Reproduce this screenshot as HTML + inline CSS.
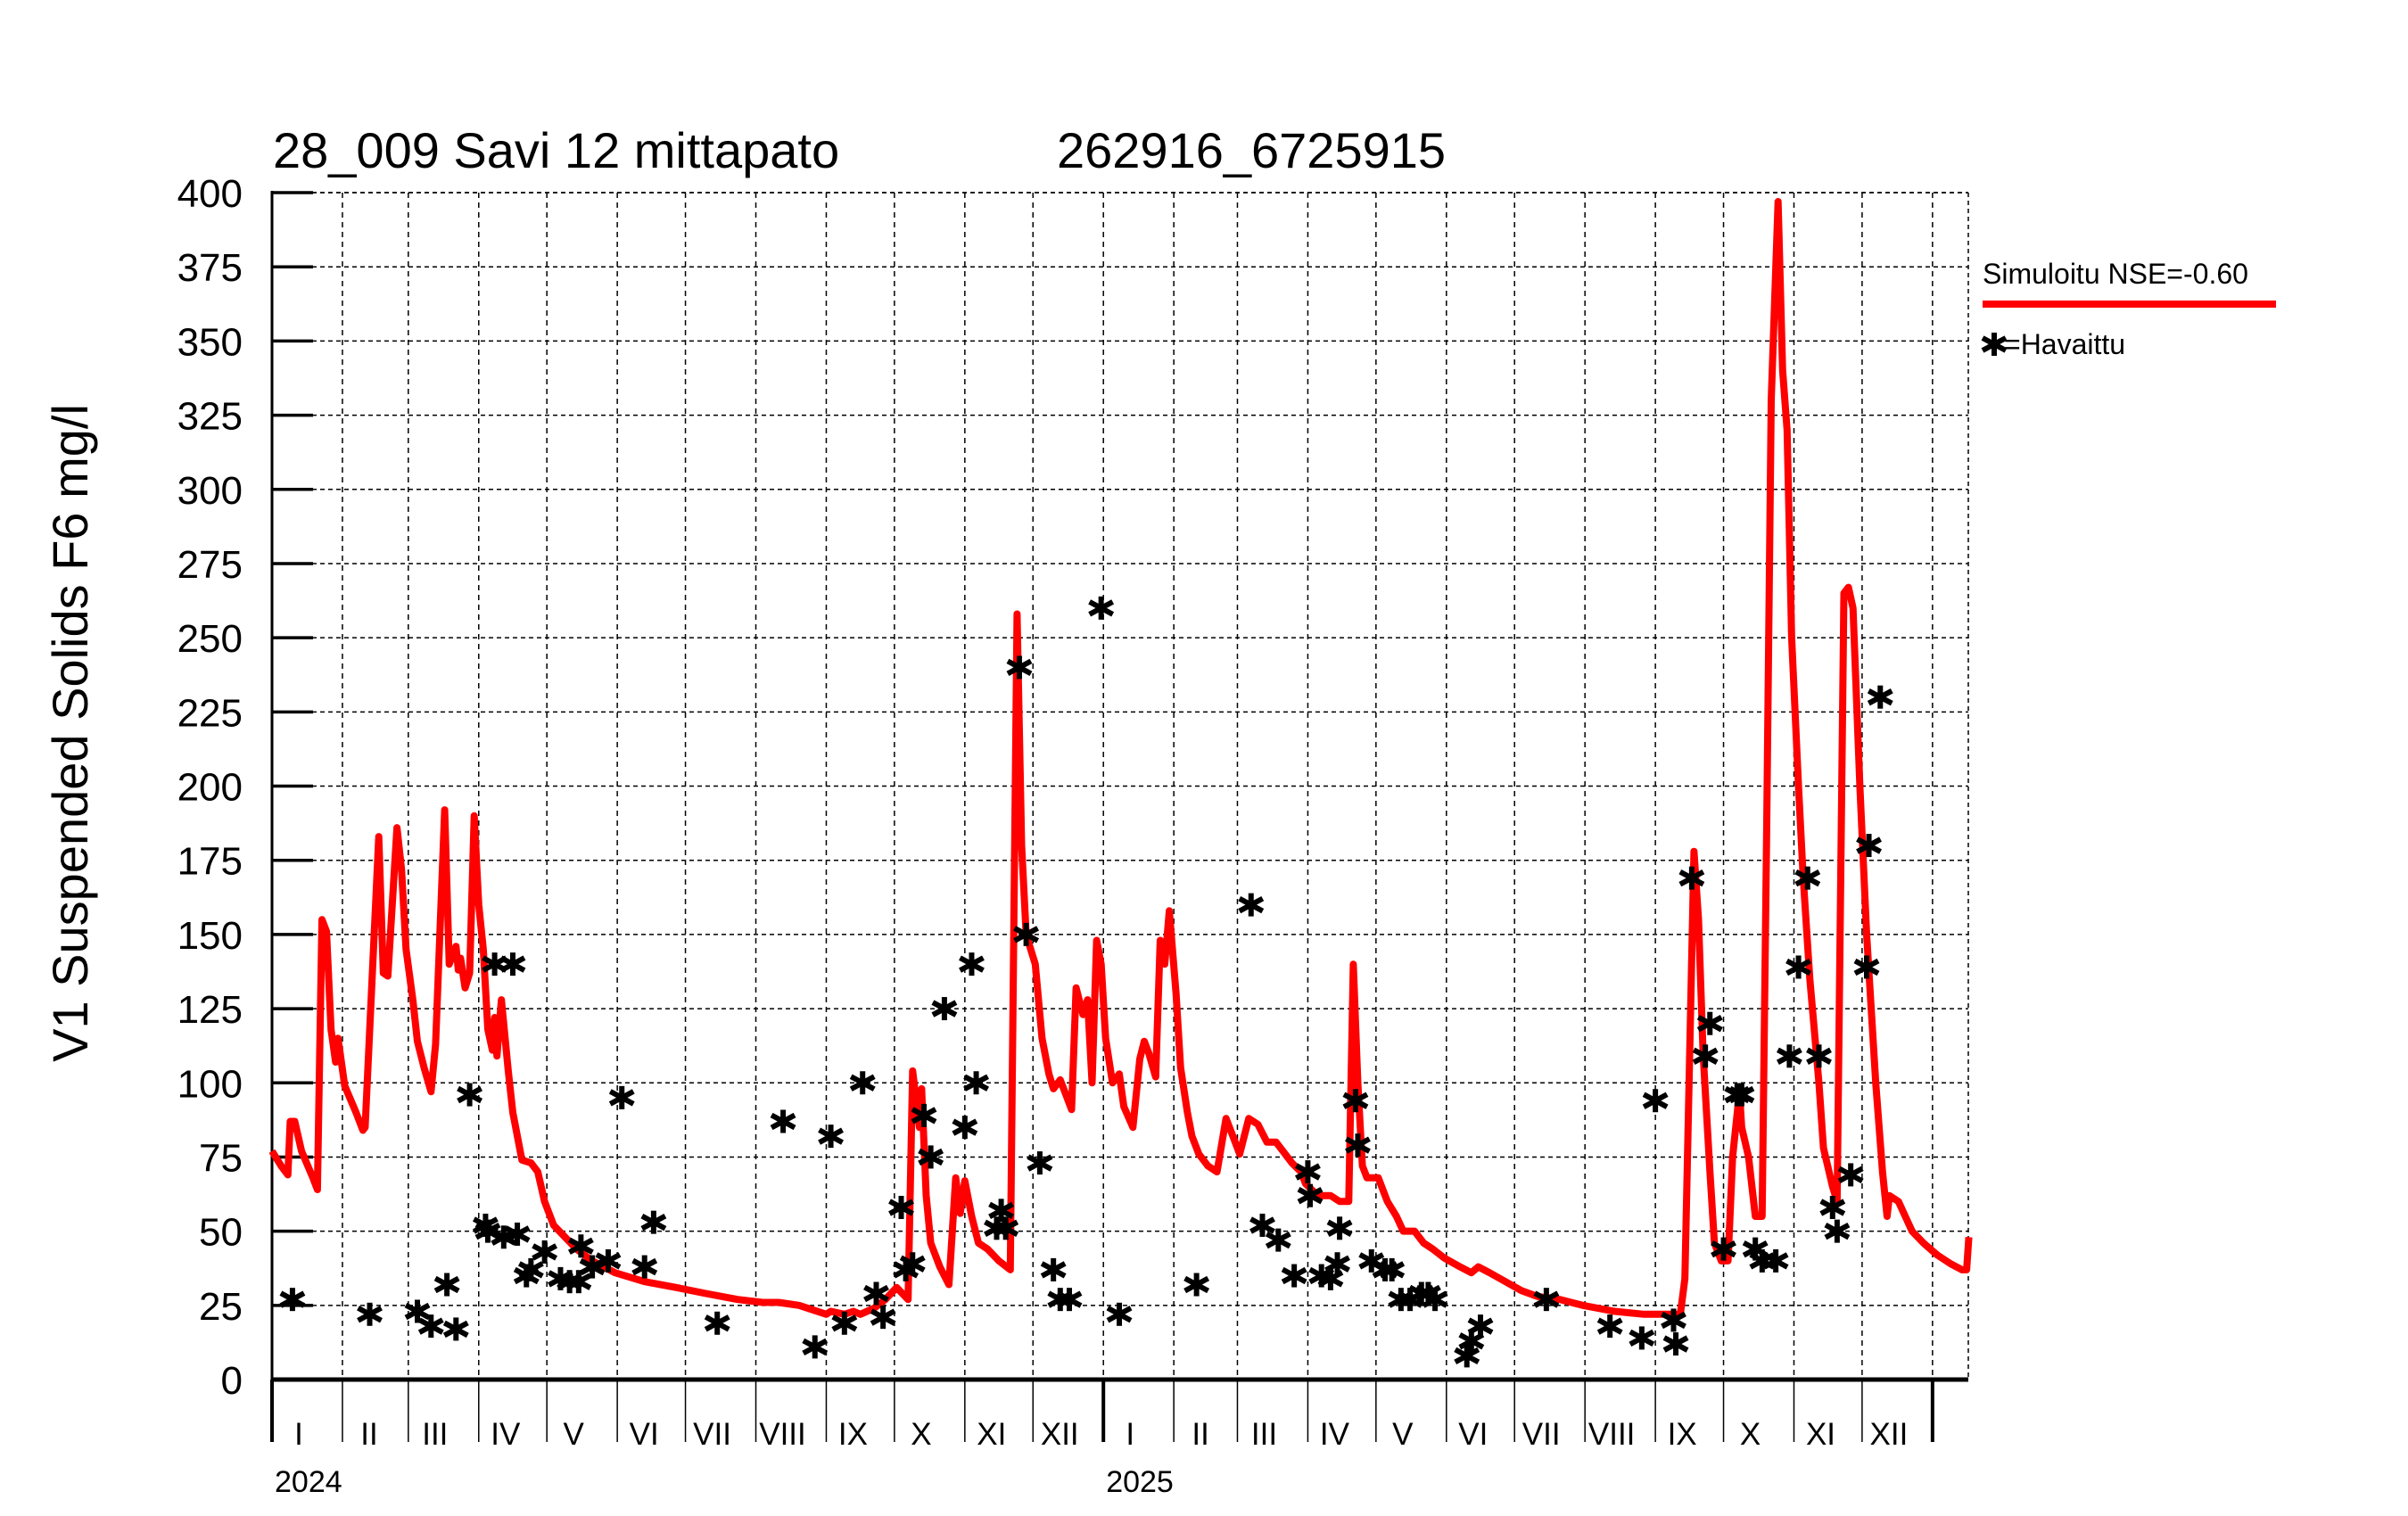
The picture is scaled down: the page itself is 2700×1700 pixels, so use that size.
<!DOCTYPE html>
<html><head><meta charset="utf-8"><style>
html,body{margin:0;padding:0;background:#fff;}
svg{display:block;font-family:"Liberation Sans",sans-serif;}
</style></head><body>
<svg id="chart" width="2700" height="1700" viewBox="0 0 2700 1700" xmlns="http://www.w3.org/2000/svg">
<text x="306" y="188" font-size="56">28_009 Savi 12 mittapato</text>
<text x="1185" y="188" font-size="56">262916_6725915</text>
<text transform="translate(98,822) rotate(-90)" text-anchor="middle" font-size="56">V1 Suspended Solids F6 mg/l</text>
<g id="grid"></g><g id="axes"></g><g id="sim"></g><g id="obs"></g>
<g>
<text x="2223" y="318" font-size="32">Simuloitu NSE=-0.60</text>
<line x1="2223" y1="341" x2="2552" y2="341" stroke="#ff0000" stroke-width="8"/>
<g stroke="#000" stroke-width="6">
<line x1="2236" y1="373" x2="2236" y2="399"/><line x1="2223" y1="379" x2="2249" y2="393"/><line x1="2249" y1="379" x2="2223" y2="393"/></g>
<text x="2247" y="397" font-size="32">=Havaittu</text>
</g>
</svg>
<script>
const simDays=[0,4,7,8,10,13,18,20,22,24,26,28,29,30,32,37,40,41,47,49,51,55,57,59,62,64,67,70,72,76,78,81,82,83,85,87,89,91,93,95,97,98,99,101,104,106,108,110,114,117,120,124,129,134,141,151,164,178,191,205,216,223,232,244,246,252,256,259,265,270,275,280,282,285,286,288,290,294,298,301,303,305,308,311,315,320,325,328,330,332,336,339,342,344,347,349,352,354,357,359,361,363,365,367,370,373,375,379,382,384,386,389,391,393,395,398,400,403,405,408,412,416,420,423,426,430,434,438,442,446,449,453,455,459,462,466,470,474,476,478,480,482,484,487,491,495,498,503,507,511,516,523,528,531,536,543,550,557,567,577,591,604,614,620,622,626,628,630,633,635,638,641,643,646,647,650,653,656,658,660,663,665,667,669,672,674,677,681,683,687,689,692,694,696,699,702,706,709,711,712,716,719,722,727,733,739,744,746,747];
const simValues=[77,72,69,87,87,77,68,64,155,151,118,107,115,110,99,90,84,85,183,137,136,186,172,145,128,114,105,97,113,192,140,146,138,142,132,137,190,160,145,118,111,122,109,128,104,90,82,74,73,70,60,52,48,44,40,36,33,31,29,27,26,26,25,22,23,22,23,22,24,27,31,27,104,85,98,62,46,38,32,68,56,67,55,46,44,40,37,258,180,150,140,115,103,98,101,97,91,132,123,128,100,148,140,115,100,103,92,85,108,114,110,102,148,140,158,130,105,90,82,76,72,70,88,82,76,88,86,80,80,76,73,70,66,63,62,62,60,60,140,100,72,68,68,68,60,55,50,50,46,44,41,38,36,38,36,33,30,28,27,25,23,22,22,22,34,178,155,110,70,46,40,40,75,97,85,75,55,55,185,330,397,340,320,250,200,170,135,100,78,65,60,265,267,260,200,150,100,70,55,62,60,55,50,46,42,39,37,37,48];
const obsDays=[9,43,64,70,77,81,87,94,95,98,106,102,108,112,114,120,127,131,135,136,141,148,154,164,168,196,225,239,246,252,260,266,269,277,279,282,287,290,296,305,308,310,319,321,323,329,332,338,344,347,351,365,373,407,431,436,443,450,456,457,462,466,469,470,477,478,484,490,493,497,501,506,509,512,526,528,532,561,589,603,609,617,618,625,631,633,639,645,647,653,656,662,668,672,676,681,687,689,695,702,703,708];
const obsValues=[27,22,23,18,32,17,96,52,50,140,140,48,49,35,37,43,34,33,33,45,38,40,95,38,53,19,87,11,82,19,100,29,21,58,37,39,89,75,125,85,140,100,51,57,51,240,150,73,37,27,27,260,22,32,160,52,47,35,70,62,35,34,39,51,94,79,40,37,37,27,27,29,29,27,8,13,18,27,18,14,94,20,12,169,109,120,44,96,96,44,40,40,109,139,169,109,58,50,69,139,180,230];
const yTicks=[0,25,50,75,100,125,150,175,200,225,250,275,300,325,350,375,400];
const monthLabels=["I","II","III","IV","V","VI","VII","VIII","IX","X","XI","XII"];
const years=[2024,2025];
const x0=305,pxDay=2.547,xEnd=2207,y0=1547,pxVal=(1547-216)/400;
const X=d=>x0+d*pxDay, Y=v=>y0-v*pxVal;
const NS="http://www.w3.org/2000/svg";
function mk(tag,parent,attrs){const e=document.createElementNS(NS,tag);for(const k in attrs)e.setAttribute(k,attrs[k]);parent.appendChild(e);return e;}
const grid=document.getElementById('grid'),axes=document.getElementById('axes');
yTicks.forEach(v=>{
  if(v>0){const g=mk('line',grid,{x1:x0,y1:Y(v),x2:xEnd,y2:Y(v),stroke:'#000','stroke-width':1.5,'stroke-dasharray':'5,4'});
  
  
  const t=mk('line',axes,{x1:x0,y1:Y(v),x2:x0+46,y2:Y(v),stroke:'#000','stroke-width':3.5});
  
  }
  const l=mk('text',axes,{x:272,y:Y(v)+16,'text-anchor':'end','font-size':44});
  l.textContent=v;
  
  
});
const ml=[[31,29,31,30,31,30,31,31,30,31,30,31],[31,28,31,30,31,30,31,31,30,31,30,31]];
let day=0;
years.forEach((yr,yi)=>{
  const yl=mk('text',axes,{x:X(day)+3,y:1673,'font-size':34});
  yl.textContent=yr;
  
  
  ml[yi].forEach((n,mi)=>{
    const xs=X(day);
    if(day>0){const g=mk('line',grid,{x1:xs,y1:216,x2:xs,y2:y0,stroke:'#000','stroke-width':1.5,'stroke-dasharray':'6,5'});
    
    }
    const t=mk('line',axes,{x1:xs,y1:y0,x2:xs,y2:1617,stroke:'#000','stroke-width':(mi===0?4:1.5)});
    
    
    const lb=mk('text',axes,{x:xs+30,y:1620,'text-anchor':'middle','font-size':35});
    lb.textContent=monthLabels[mi];
    
    
    day+=n;
  });
});
const endT=mk('line',axes,{x1:X(day),y1:216,x2:X(day),y2:y0,stroke:'#000','stroke-width':1.5,'stroke-dasharray':'6,5'});


const endT2=mk('line',axes,{x1:X(day),y1:y0,x2:X(day),y2:1617,stroke:'#000','stroke-width':4});


const topBorder=mk('line',grid,{x1:x0,y1:216,x2:xEnd,y2:216,stroke:'#000','stroke-width':1.5,'stroke-dasharray':'5,4'});


const rightBorder=mk('line',grid,{x1:xEnd,y1:216,x2:xEnd,y2:y0,stroke:'#000','stroke-width':1.5,'stroke-dasharray':'5,4'});


const ya=mk('line',axes,{x1:x0,y1:214,x2:x0,y2:1617,stroke:'#000','stroke-width':3});


const xa=mk('line',axes,{x1:x0,y1:y0,x2:xEnd,y2:y0,stroke:'#000','stroke-width':5});


const pts=simDays.map((d,i)=>X(d).toFixed(1)+','+Y(simValues[i]).toFixed(1)).join(' ');
const sl=mk('polyline',document.getElementById('sim'),{points:pts,fill:'none',stroke:'#ff0000','stroke-width':8,'stroke-linejoin':'round'});


const og=document.getElementById('obs');
obsDays.forEach((d,i)=>{
  const cx=X(d),cy=Y(obsValues[i]);
  const g=mk('g',og,{stroke:'#000','stroke-width':6});
  
  
  mk('line',g,{x1:cx,y1:cy-13,x2:cx,y2:cy+13});
  mk('line',g,{x1:cx-13,y1:cy-7,x2:cx+13,y2:cy+7});
  mk('line',g,{x1:cx+13,y1:cy-7,x2:cx-13,y2:cy+7});
});
</script>
</body></html>
